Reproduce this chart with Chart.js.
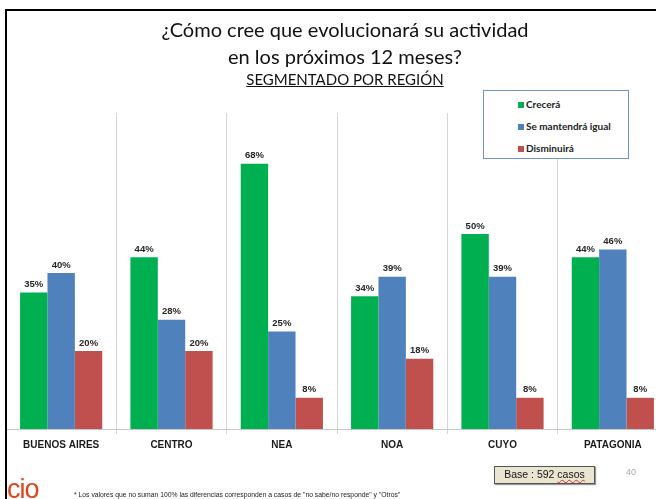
<!DOCTYPE html>
<html>
<head>
<meta charset="utf-8">
<script src="https://cdn.jsdelivr.net/npm/chart.js@4/dist/chart.umd.min.js"></script>
<style>
  html, body { margin:0; padding:0; width:656px; height:499px; overflow:hidden; background:#fff; }
  #wrap { position:absolute; left:0; top:0; width:656px; height:499px; overflow:hidden; }
  #c { position:absolute; left:0; top:0; }
  .t { position:absolute; left:0; width:690px; text-align:center; font-family:Lato, "Open Sans", sans-serif; color:#111; white-space:nowrap; }
  #bT { position:absolute; left:5px; top:9px; width:660px; height:2px; background:#000; }
  #bL { position:absolute; left:5px; top:9px; width:2px; height:500px; background:#000; }
  #legend { position:absolute; left:483px; top:90px; width:144px; height:67px; border:1.5px solid #6f93c6; background:#fff; font-family:Lato, "Open Sans", sans-serif; font-weight:bold; font-size:10px; color:#222; }
  .li { position:absolute; left:34px; white-space:nowrap; }
  .li span { display:inline-block; width:6px; height:6px; margin-right:2px; vertical-align:0px; }
  #base { position:absolute; left:494px; top:466px; width:99px; height:16px; border:1px solid #555; background:#e9e5d0; font-family:"Liberation Sans", Arial, sans-serif; font-size:10.5px; line-height:14px; text-align:center; color:#111; box-shadow:1px 1px 1px #999; }
  #base u { text-decoration: underline wavy #d03030; text-decoration-thickness:1px; text-underline-offset:1px; }
  #pg { position:absolute; left:626px; top:467px; font-family:"Liberation Sans", Arial, sans-serif; font-size:9px; color:#aaa; }
  #cio { position:absolute; left:7px; top:474px; font-family:"Liberation Sans", Arial, sans-serif; font-size:27px; color:#e0451f; letter-spacing:-1px; }
  #foot { position:absolute; left:74px; top:491px; font-family:"Liberation Sans", Arial, sans-serif; font-size:6.8px; color:#222; white-space:nowrap; }
</style>
</head>
<body>
<div id="wrap">
  <canvas id="c" width="670" height="499"></canvas>
  <div id="bT"></div>
  <div id="bL"></div>
  <div class="t" style="top:17px;font-size:20px;">¿Cómo cree que evolucionará su actividad</div>
  <div class="t" style="top:44px;font-size:20px;">en los próximos 12 meses?</div>
  <div class="t" style="top:70px;font-size:15px;text-decoration:underline;">SEGMENTADO POR REGIÓN</div>
  <div id="legend"></div>
  <div id="base">Base : 592 <u>casos</u></div>
  <div id="pg">40</div>
  <div id="cio">cio</div>
  <div id="foot">* Los valores que no suman 100% las diferencias corresponden a casos de "no sabe/no responde" y "Otros"</div>
</div>
<script>
const categories = ["BUENOS AIRES", "CENTRO", "NEA", "NOA", "CUYO", "PATAGONIA"];
const seriesNames = ["Crecerá", "Se mantendrá igual", "Disminuirá"];
const crecera = [35, 44, 68, 34, 50, 44];
const mantendra = [40, 28, 25, 39, 39, 46];
const disminuira = [20, 20, 8, 18, 8, 8];
const colors = ["#00B050", "#4F81BD", "#C0504D"];

const seriesValues = [crecera, mantendra, disminuira];

const leg = document.getElementById('legend');
const tops = [7, 29, 51];
seriesNames.forEach((n, i) => {
  const d = document.createElement('div');
  d.className = 'li';
  d.style.top = tops[i] + 'px';
  d.innerHTML = '<span style="background:' + colors[i] + '"></span>' + n;
  leg.appendChild(d);
});

const labelPlugin = {
  id: 'valueLabels',
  afterDatasetsDraw(chart) {
    const ctx = chart.ctx;
    ctx.save();
    ctx.font = 'bold 9.5px "Liberation Sans", Arial, sans-serif';
    ctx.fillStyle = '#262626';
    ctx.textAlign = 'center';
    ctx.textBaseline = 'middle';
    chart.data.datasets.forEach((ds, di) => {
      chart.getDatasetMeta(di).data.forEach((bar, i) => {
        ctx.fillText(ds.data[i] + '%', bar.x, bar.y - 8);
      });
    });
    ctx.restore();
  }
};

new Chart(document.getElementById('c'), {
  type: 'bar',
  data: {
    labels: categories,
    datasets: seriesNames.map((n, i) => ({
      label: n,
      data: seriesValues[i],
      backgroundColor: colors[i],
      borderWidth: 0,
      categoryPercentage: 0.745,
      barPercentage: 1.0
    }))
  },
  options: {
    responsive: false,
    animation: false,
    layout: { padding: { left: 6, right: 2, top: 113, bottom: 43 } },
    plugins: { legend: { display: false }, tooltip: { enabled: false }, title: { display: false } },
    scales: {
      x: {
        grid: { display: true, offset: true, color: '#d6d6d6', lineWidth: 1, drawTicks: true, tickLength: 5 },
        border: { display: true, color: '#c8c8c8', width: 1 },
        ticks: { color: '#1a1a1a', padding: 5, font: { family: '"Liberation Sans", Arial, sans-serif', size: 10, weight: 'bold' }, maxRotation: 0, autoSkip: false }
      },
      y: { display: false, min: 0, max: 81 }
    }
  },
  plugins: [labelPlugin]
});
</script>
</body>
</html>
